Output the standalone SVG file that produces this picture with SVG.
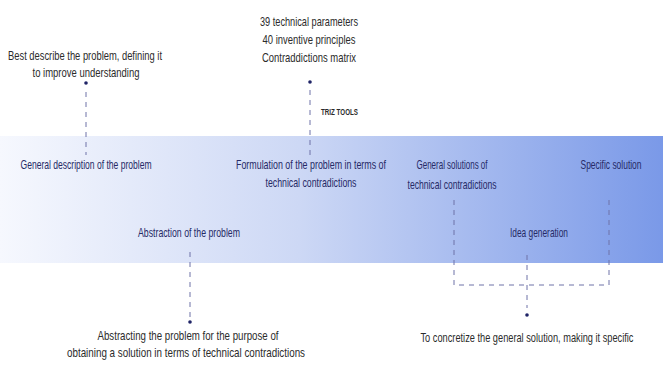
<svg xmlns="http://www.w3.org/2000/svg" width="663" height="365" viewBox="0 0 663 365">
<style>
.out{font-family:"Liberation Sans",Arial,sans-serif;font-size:13.5px;fill:#2b2b2b;text-anchor:middle}
.in{font-family:"Liberation Sans",Arial,sans-serif;font-size:13px;fill:#262a66;text-anchor:middle}
.tag{font-family:"Liberation Sans",Arial,sans-serif;font-size:8.5px;font-weight:bold;fill:#2b2b2b}
.dash{stroke:#6f73a8;stroke-width:1;stroke-dasharray:5 5;fill:none}
.dot{fill:#1f2466}
</style>
<defs>
<linearGradient id="band" x1="0" y1="0" x2="1" y2="0">
<stop offset="0" stop-color="#f6f8fe"/>
<stop offset="0.45" stop-color="#cdd8f5"/>
<stop offset="1" stop-color="#7a99e8"/>
</linearGradient>
</defs>
<rect x="0" y="136" width="663" height="127" fill="url(#band)"/>
<g id="connectors">
<line class="dash" x1="86" y1="92" x2="86" y2="155"/>
<line class="dash" x1="310" y1="90" x2="310" y2="155"/>
<line class="dash" x1="190" y1="252" x2="190" y2="318"/>
<path class="dash" d="M454 200 V285 H609 V200"/>
<line class="dash" x1="527" y1="255" x2="527" y2="308"/>
<circle class="dot" cx="86" cy="83" r="1.8"/>
<circle class="dot" cx="310" cy="82" r="1.8"/>
<circle class="dot" cx="190" cy="322" r="1.8"/>
<circle class="dot" cx="527" cy="315" r="1.8"/>
</g>
<g id="best-describe">
<text class="out" x="85" y="60" textLength="154" lengthAdjust="spacingAndGlyphs">Best describe the problem, defining it</text>
<text class="out" x="86" y="77" textLength="107" lengthAdjust="spacingAndGlyphs">to improve understanding</text>
</g>
<g id="triz-tools">
<text class="out" x="309" y="26" textLength="98" lengthAdjust="spacingAndGlyphs">39 technical parameters</text>
<text class="out" x="309" y="44" textLength="93" lengthAdjust="spacingAndGlyphs">40 inventive principles</text>
<text class="out" x="309" y="62" textLength="94" lengthAdjust="spacingAndGlyphs">Contraddictions matrix</text>
<text class="tag" x="321" y="115" textLength="37" lengthAdjust="spacingAndGlyphs">TRIZ TOOLS</text>
</g>
<g id="general-description">
<text class="in" x="86" y="169" textLength="131" lengthAdjust="spacingAndGlyphs">General description of the problem</text>
</g>
<g id="formulation">
<text class="in" x="311" y="169" textLength="150" lengthAdjust="spacingAndGlyphs">Formulation of the problem in terms of</text>
<text class="in" x="311" y="187" textLength="91" lengthAdjust="spacingAndGlyphs">technical contradictions</text>
</g>
<g id="abstraction">
<text class="in" x="189" y="237" textLength="102" lengthAdjust="spacingAndGlyphs">Abstraction of the problem</text>
</g>
<g id="general-solutions">
<text class="in" x="452" y="169" textLength="71" lengthAdjust="spacingAndGlyphs">General solutions of</text>
<text class="in" x="452" y="189" textLength="89" lengthAdjust="spacingAndGlyphs">technical contradictions</text>
</g>
<g id="specific-solution">
<text class="in" x="611" y="169" textLength="61" lengthAdjust="spacingAndGlyphs">Specific solution</text>
</g>
<g id="idea-generation">
<text class="in" x="539" y="237" textLength="58" lengthAdjust="spacingAndGlyphs">Idea generation</text>
</g>
<g id="abstracting">
<text class="out" x="188" y="340" textLength="181" lengthAdjust="spacingAndGlyphs">Abstracting the problem for the purpose of</text>
<text class="out" x="186" y="357" textLength="238" lengthAdjust="spacingAndGlyphs">obtaining a solution in terms of technical contradictions</text>
</g>
<g id="concretize">
<text class="out" x="527" y="342" textLength="213" lengthAdjust="spacingAndGlyphs">To concretize the general solution, making it specific</text>
</g>
</svg>
